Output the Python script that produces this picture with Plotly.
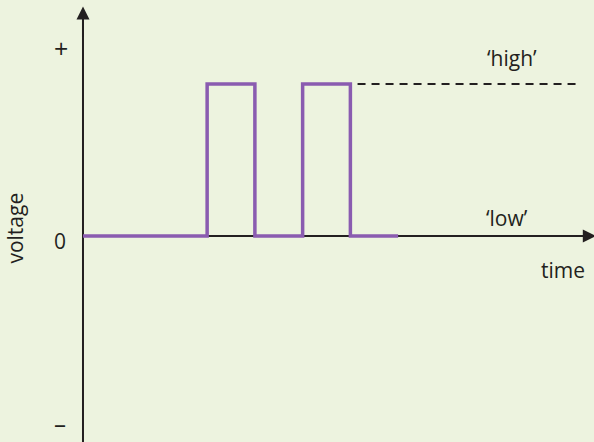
import plotly.graph_objects as go

# Data: digital signal (time units, voltage in units of 'high')
time_points = [0.0, 2.6, 3.6, 4.6, 5.6, 6.6]
voltage_levels = [0, 1, 0, 1, 0, 0]
high_level = 1.0
high_dash_start = 5.75
high_dash_end = 10.35

x_range = [-1.738, 10.702]
y_range = [-1.3553, 1.5526]

BG = "#edf3df"
INK = "#231f20"
PURPLE = "#8a5bb0"
FONT = "Open Sans"

fig = go.Figure()

# x-axis line (below signal)
fig.add_shape(type="line", x0=0, x1=10.6, y0=0, y1=0, xref="x", yref="y",
              line=dict(color=INK, width=2), layer="below")
# y-axis line
fig.add_shape(type="line", x0=0, x1=0, y0=y_range[0] - 0.1, y1=1.45, xref="x", yref="y",
              line=dict(color=INK, width=2), layer="below")
# dashed 'high' line
fig.add_shape(type="line", x0=high_dash_start, x1=high_dash_end, y0=high_level, y1=high_level,
              xref="x", yref="y", line=dict(color=INK, width=2, dash="8px,6px"), layer="below")

fig.add_trace(go.Scatter(x=time_points, y=voltage_levels, mode="lines",
                         line=dict(color=PURPLE, width=3.5, shape="hv"),
                         hoverinfo="skip", showlegend=False))

# arrowheads
fig.add_annotation(x=10.74, y=0, ax=10.3, ay=0, xref="x", yref="y", axref="x", ayref="y",
                   text="", showarrow=True, arrowhead=2, arrowsize=1.3, arrowwidth=2, arrowcolor=INK)
fig.add_annotation(x=0, y=1.51, ax=0, ay=1.3, xref="x", yref="y", axref="x", ayref="y",
                   text="", showarrow=True, arrowhead=2, arrowsize=1.3, arrowwidth=2, arrowcolor=INK)

labels = [
    ("+", -0.46, 1.237, 0, 25, "middle"),
    ("0", -0.48, -0.03, 0, 21, "middle"),
    ("–", -0.48, y_range[0], 0, 24, "bottom"),
    ("voltage", -1.42, 0.05, -90, 21, "middle"),
    ("‘high’", 8.98, 1.17, 0, 21, "middle"),
    ("‘low’", 8.88, 0.12, 0, 21, "middle"),
    ("time", 10.05, -0.225, 0, 21, "middle"),
]
for txt, x, y, ang, size, ya in labels:
    fig.add_annotation(x=x, y=y, xref="x", yref="y", text=txt, showarrow=False,
                       textangle=ang, yanchor=ya,
                       font=dict(family=FONT, size=size, color=INK))

fig.update_layout(
    width=594, height=442, margin=dict(l=0, r=0, t=0, b=0),
    paper_bgcolor=BG, plot_bgcolor=BG,
    xaxis=dict(range=x_range, visible=False, fixedrange=True),
    yaxis=dict(range=y_range, visible=False, fixedrange=True),
)
fig.write_html("out.html", config={"displayModeBar": False},
               post_script="document.body.style.margin='0';document.body.style.overflow='hidden';")
